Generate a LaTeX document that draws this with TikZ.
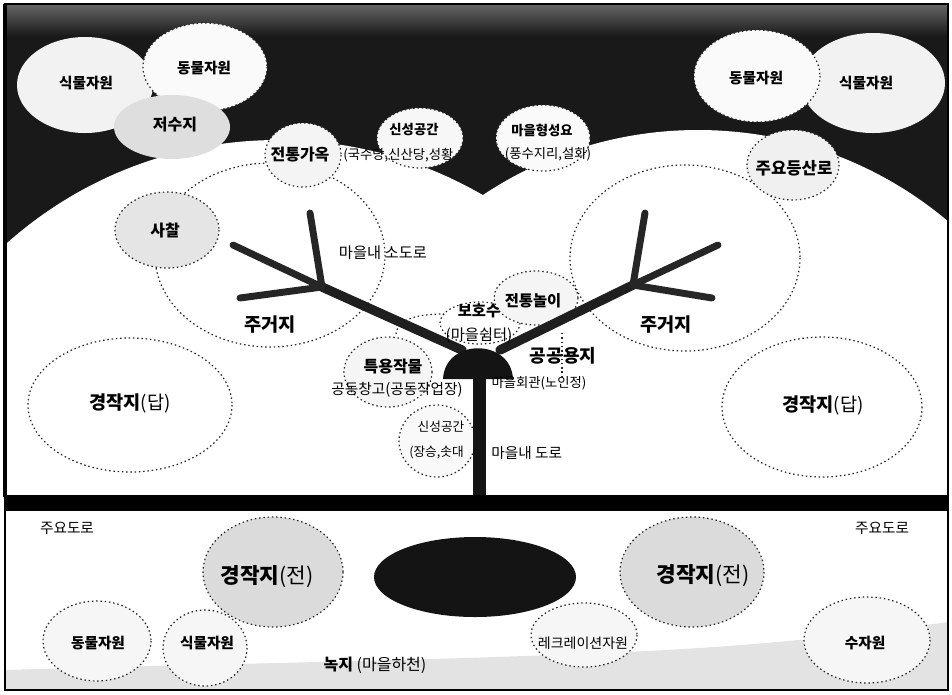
\documentclass[tikz,border=0pt]{standalone}
\usepackage{fontspec}
\setmainfont{Noto Sans CJK KR}
\newcommand\kfont[1]{\fontsize{#1}{#1}\selectfont}
\begin{document}
\begin{tikzpicture}[x=0.75pt,y=-0.75pt,
  dots/.style={draw=black!85, line width=0.9pt, dash pattern=on 1.1pt off 2.1pt},
  lightblob/.style={dots, fill=gray!7},
  greyblob/.style={dots, fill=gray!28},
  tag/.style={inner sep=0pt, font=\kfont{11}\bfseries},
  note/.style={inner sep=0pt, font=\kfont{10}},
  zone/.style={inner sep=0pt, font=\kfont{14}\bfseries},
  branch/.style={line width=7pt, line cap=round, draw=black!88},
  twig/.style={line width=5.2pt, line cap=round, draw=black!85}]
\useasboundingbox (0,0) rectangle (952,694);
\fill[white] (0,0) rectangle (952,694);

% ---------- upper panel: dark sky and the two white lobes ----------
\fill[black!90] (5,4) rectangle (948,497);
\shade[top color=black!60, bottom color=black!90] (5,4) rectangle (948,36);
\begin{scope}
  \clip (5,4) rectangle (948,497);
  \fill[white] (278,548) circle[radius=408];
  \fill[white] (698,518) circle[radius=388];
\end{scope}

% settlement and paddy outlines
\draw[dots] (270,255) ellipse[x radius=115, y radius=92];
\draw[dots] (685,258) ellipse[x radius=115, y radius=93];
\draw[dots] (130,405) ellipse[x radius=102, y radius=67];
\draw[dots] (822,407) ellipse[x radius=100, y radius=70];

% resources along the ridge
\path[fill=gray!10] (85,85) ellipse[x radius=68, y radius=48];
\path[dots, fill=gray!4] (205,67) ellipse[x radius=62, y radius=44];
\path[fill=gray!26] (172,127) ellipse[x radius=58, y radius=32];
\path[fill=gray!10] (873,83) ellipse[x radius=72, y radius=50];
\path[dots, fill=gray!4] (757,76) ellipse[x radius=63, y radius=46];
\path[dots, fill=gray!6] (420,138) ellipse[x radius=43, y radius=30];
\path[dots, fill=gray!4] (543,138) ellipse[x radius=47, y radius=33];
\path[dots, fill=gray!9] (303,155) ellipse[x radius=38, y radius=32];
\path[dots, fill=gray!12] (793,165) ellipse[x radius=46, y radius=35];
\path[dots, fill=gray!20] (167,230) ellipse[x radius=52, y radius=38];

\node[tag] (plantL) at (86,83) {식물자원};
\node[tag] (animalL) at (204,68) {동물자원};
\node[tag, font=\kfont{12}\bfseries] (pond) at (175,125) {저수지};
\node[tag] (animalR) at (756,78) {동물자원};
\node[tag] (plantR) at (866,83) {식물자원};
\node[note, font=\kfont{10}\bfseries] (sacredT) at (414,130) {신성공간};
\node[note, font=\kfont{10}\bfseries] (origin) at (542,130) {마을형성요};
\node[note] (originSub) at (548,154) {(풍수지리,설화)};
\node[tag, font=\kfont{12}\bfseries] (house) at (300,154) {전통가옥};
\node[note, anchor=west] (houseSub) at (343,155) {(국수당,신산당,성황};
\node[tag, font=\kfont{12.5}\bfseries] (trail) at (794,168) {주요등산로};
\node[tag, font=\kfont{12}\bfseries] (temple) at (165,230) {사찰};
\node[note, font=\kfont{11.5}] (lane) at (383,253) {마을내 소도로};
\node[zone] (homeL) at (270,325) {주거지};
\node[zone] (homeR) at (666,325) {주거지};
\node[zone] (paddyL) at (130,403) {경작지\mdseries(답)};
\node[zone] (paddyR) at (823,405) {경작지\mdseries(답)};

% ---------- village centre ----------
\path[dots, fill=white] (480,323) ellipse[x radius=40, y radius=21];
\path[dots, fill=gray!8] (536,298) ellipse[x radius=42, y radius=27];
\path[dots, fill=gray!8] (388,372) ellipse[x radius=44, y radius=35];
\path[dots, fill=gray!5] (437,441) ellipse[x radius=38, y radius=36];
\draw[dots] (396,334) .. controls (398,318) and (420,314) .. (444,314);
\draw[dots] (562,333) -- (562,379);

\node[note, font=\kfont{9.5}] (sacredB) at (441,427) {신성공간};
\node[note, font=\kfont{9.5}, anchor=west] (sacredBSub) at (409,452) {(장승,솟대};

% branching lanes
\coordinate (hubL) at (462,350);
\coordinate (hubR) at (500,350);
\coordinate (jl) at (322,287);
\coordinate (jr) at (633,285);
\draw[branch] (hubL) -- (jl);
\draw[branch] (hubR) -- (jr);
\coordinate (l1) at (310,213);
\coordinate (l2) at (233,245);
\coordinate (l3) at (240,298);
\coordinate (r1) at (645,213);
\coordinate (r2) at (718,245);
\coordinate (r3) at (712,298);
\draw[twig] (jl) -- (l1);
\draw[twig] (jl) -- (l2);
\draw[twig] (jl) -- (l3);
\draw[twig] (jr) -- (r1);
\draw[twig] (jr) -- (r2);
\draw[twig] (jr) -- (r3);
% mound and main road
\fill[black!92] (443,379) .. controls (445,338) and (511,338) .. (513,379) -- cycle;
\fill[black!92] (473,370) rectangle (486,497);

\node[note, font=\kfont{11.5}\bfseries] (tree) at (479,311) {보호수};
\node[note, font=\kfont{11.5}\bfseries] (play) at (533,301) {전통놀이};
\node[note, font=\kfont{11.5}] (rest) at (479,336) {(마을쉼터)};
\node[zone, font=\kfont{13.5}\bfseries] (public) at (563,356) {공공용지};
\node[note, font=\kfont{10}] (hall) at (539,383) {마을회관(노인정)};
\node[note, font=\kfont{12}\bfseries] (crop) at (393,367) {특용작물};
\node[note, font=\kfont{11}] (store) at (397,390) {공동창고(공동작업장)};
\node[note, font=\kfont{11}, anchor=west] (road) at (491,453) {마을내 도로};

% ---------- main road band ----------
\fill[black] (5,495) rectangle (948,511);

% ---------- lower panel ----------
\fill[gray!22] (5,670) .. controls (200,664) and (420,661) .. (600,653)
  .. controls (760,647) and (860,634) .. (948,622) -- (948,690) -- (5,690) -- cycle;

\path[greyblob] (273,572) ellipse[x radius=70, y radius=55];
\path[fill=black!92] (475,577) ellipse[x radius=101, y radius=40];
\path[greyblob] (692,572) ellipse[x radius=72, y radius=55];
\path[lightblob] (97,641) ellipse[x radius=54, y radius=40];
\path[lightblob] (205,648) ellipse[x radius=42, y radius=38];
\path[lightblob] (584,635) ellipse[x radius=53, y radius=32];
\path[lightblob] (867,640) ellipse[x radius=63, y radius=43];

\node[note, font=\kfont{11}] (mainL) at (67,528) {주요도로};
\node[note, font=\kfont{11}] (mainR) at (882,528) {주요도로};
\node[zone, font=\kfont{16}\bfseries] (fieldL) at (267,577) {경작지\mdseries(전)};
\node[zone, font=\kfont{16}\bfseries] (fieldR) at (703,576) {경작지\mdseries(전)};
\node[tag] (animalB) at (98,643) {동물자원};
\node[tag] (plantB) at (207,643) {식물자원};
\node[note, font=\kfont{10.5}] (recre) at (583,643) {레크레이션자원};
\node[tag] (water) at (865,643) {수자원};
\node[note, font=\kfont{12}] (green) at (375,665) {\bfseries 녹지\mdseries{} (마을하천)};

% frame
\draw[line width=1.1pt] (5,4) rectangle (948,690);
\draw[line width=3pt] (5,4) -- (5,497);
\end{tikzpicture}
\end{document}
